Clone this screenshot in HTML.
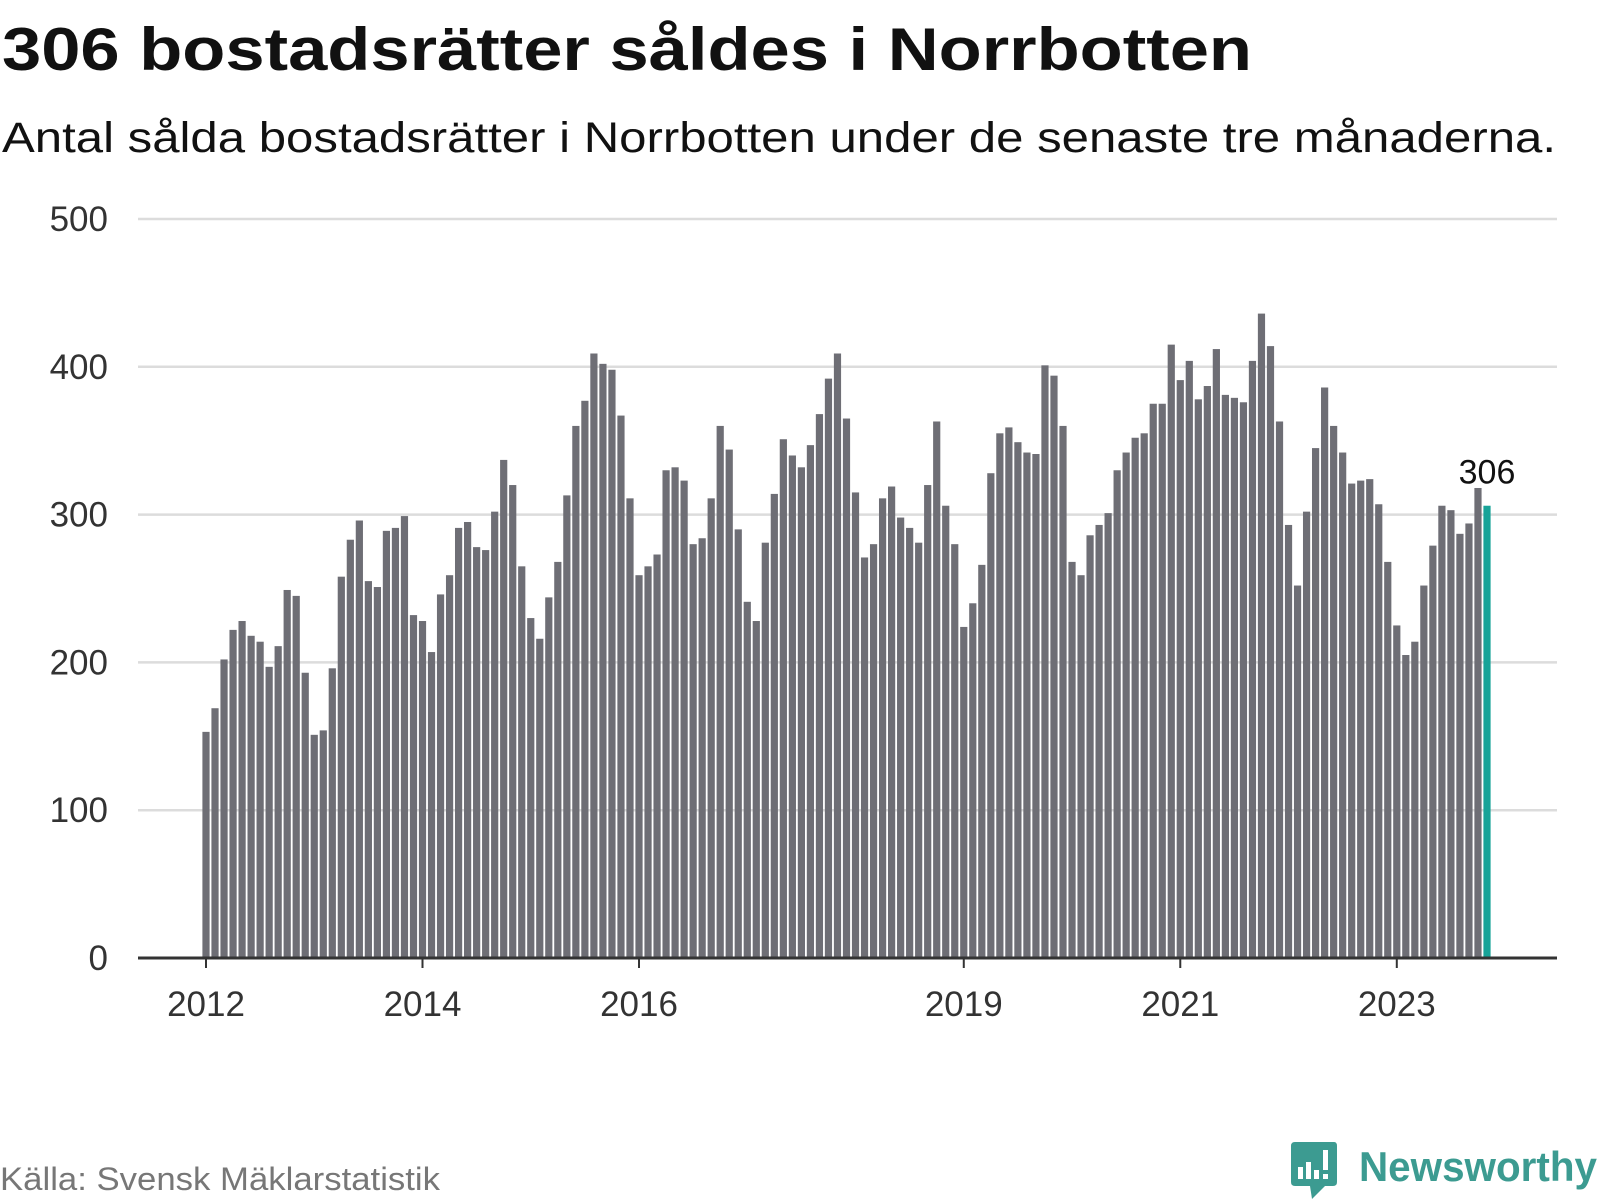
<!DOCTYPE html>
<html><head><meta charset="utf-8"><style>
html,body{margin:0;padding:0;background:#fff;}
svg{display:block;font-family:"Liberation Sans",sans-serif;}
</style></head><body>
<svg id="chart" width="1600" height="1200" viewBox="0 0 1600 1200" xmlns="http://www.w3.org/2000/svg">
<text x="2" y="70" font-size="60" font-weight="bold" fill="#111" textLength="1250" lengthAdjust="spacingAndGlyphs">306 bostadsrätter såldes i Norrbotten</text>
<text x="2" y="152" font-size="43" fill="#111" textLength="1554" lengthAdjust="spacingAndGlyphs">Antal sålda bostadsrätter i Norrbotten under de senaste tre månaderna.</text>
<g id="grid"></g>
<g id="bars"></g>
<g id="xaxis"></g>
<text x="0" y="1190" font-size="32" fill="#777" textLength="440" lengthAdjust="spacingAndGlyphs">Källa: Svensk Mäklarstatistik</text>
<g>
<path d="M1295 1142 H1334 Q1337 1142 1337 1146 V1182 Q1337 1186 1333 1186 H1325 L1312 1199 L1310 1186 H1295 Q1291 1186 1291 1182 V1146 Q1291 1142 1295 1142 Z" fill="#3c9b91"/>
<rect x="1298" y="1167" width="5" height="12" fill="#fff"/>
<rect x="1306" y="1162" width="5" height="17" fill="#fff"/>
<rect x="1314" y="1170" width="5" height="9" fill="#fff"/>
<rect x="1323" y="1150" width="5" height="20" fill="#fff"/>
<rect x="1323" y="1174" width="5" height="5" fill="#fff"/>
<text x="1359" y="1181" font-size="42" font-weight="bold" fill="#3c9b91" textLength="238" lengthAdjust="spacingAndGlyphs">Newsworthy</text>
</g>
</svg>
<script>
const values = [
153,169,202,222,228,218,214,197,211,249,245,193,
151,154,196,258,283,296,255,251,289,291,299,232,
228,207,246,259,291,295,278,276,302,337,320,265,
230,216,244,268,313,360,377,409,402,398,367,311,
259,265,273,330,332,323,280,284,311,360,344,290,
241,228,281,314,351,340,332,347,368,392,409,365,
315,271,280,311,319,298,291,281,320,363,306,280,
224,240,266,328,355,359,349,342,341,401,394,360,
268,259,286,293,301,330,342,352,355,375,375,415,
391,404,378,387,412,381,379,376,404,436,414,363,
293,252,302,345,386,360,342,321,323,324,307,268,
225,205,214,252,279,306,303,287,294,318,306];
const yTicks = [0,100,200,300,400,500];
const xTickLabels = ["2012","2014","2016","2019","2021","2023"];
const xTickIndex = [0,24,48,84,108,132];
const NS="http://www.w3.org/2000/svg";
const y0=958, yPer=(958-219)/500;
const x0=206, step=(1487-206)/142;
const yS=v=>y0-v*yPer, xS=i=>x0+i*step;
const grid=document.getElementById('grid'), bars=document.getElementById('bars'), xa=document.getElementById('xaxis');
function mk(tag,attrs,parent){const e=document.createElementNS(NS,tag);for(const k in attrs)e.setAttribute(k,attrs[k]);parent.appendChild(e);return e;}
yTicks.forEach(t=>{
  if(t>0){const l=mk('line',{x1:138,x2:1557,y1:yS(t),y2:yS(t),stroke:'#dcdcdc','stroke-width':2.5},grid);
  
  }
  const tx=mk('text',{x:108,y:yS(t)+12,'font-size':35,fill:'#333','text-anchor':'end'},grid);
  
  
  tx.textContent=t;
});
const bw=7.2;
values.forEach((v,i)=>{
  const last=i===values.length-1;
  const r=mk('rect',{x:xS(i)-bw/2,y:yS(v),width:bw,height:y0-yS(v),fill:last?'#17a398':'#6e6e75'},bars);
  
  
});
const li=values.length-1;
const lab=mk('text',{x:xS(li),y:yS(values[li])-22,'font-size':34,fill:'#111','text-anchor':'middle'},bars);


lab.textContent=values[li];
const ax=mk('line',{x1:138,x2:1557,y1:y0,y2:y0,stroke:'#333','stroke-width':3},xa);


xTickIndex.forEach((ix,k)=>{
  const tk=mk('line',{x1:xS(ix),x2:xS(ix),y1:y0,y2:y0+10,stroke:'#333','stroke-width':2},xa);
  
  
  const t=mk('text',{x:xS(ix),y:1016,'font-size':35,fill:'#333','text-anchor':'middle'},xa);
  
  
  t.textContent=xTickLabels[k];
});
</script>
</body></html>
